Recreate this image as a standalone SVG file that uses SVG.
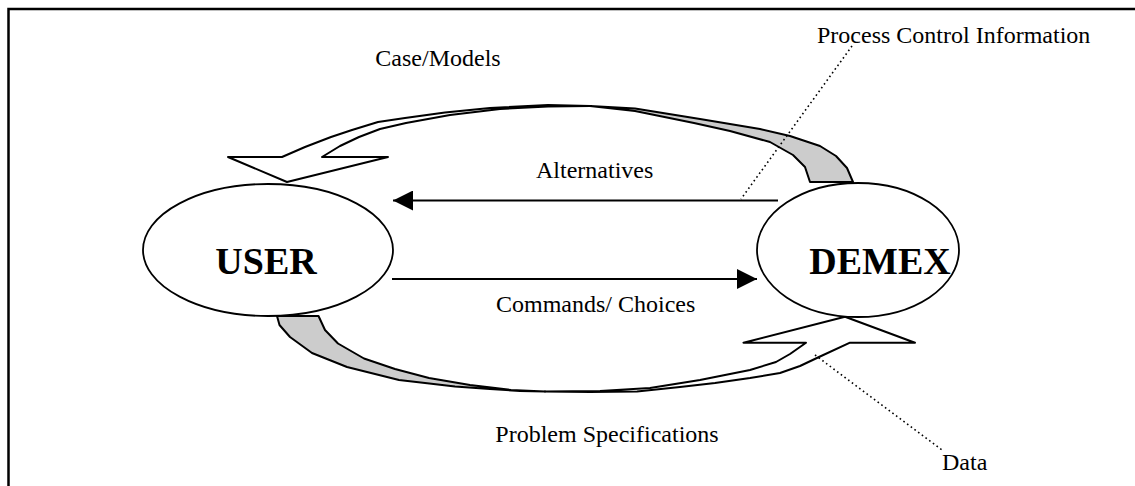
<svg xmlns="http://www.w3.org/2000/svg" width="1135" height="486" viewBox="0 0 1135 486">
  <style>
    .frame { fill: none; stroke: #000; stroke-width: 2.5; }
    .node { fill: #fff; stroke: #000; stroke-width: 1.8; }
    .band { stroke: #000; stroke-width: 2; stroke-linejoin: round; }
    .front { fill: #fff; }
    .back { fill: #cccccc; }
    .flow { fill: none; stroke: #000; stroke-width: 2.2; }
    .pointer { fill: none; stroke: #000; stroke-width: 1.6; stroke-dasharray: 1.6 3; }
    .label { font-family: "Liberation Serif", "Times New Roman", serif; font-size: 24px; fill: #000; }
    .title { font-family: "Liberation Serif", "Times New Roman", serif; font-size: 38px; font-weight: bold; fill: #000; }
  </style>
  <defs>
    <marker id="head" viewBox="0 0 20 20" refX="20" refY="10" markerWidth="20" markerHeight="20" markerUnits="userSpaceOnUse" orient="auto">
      <path d="M0,0 L20,10 L0,20 Z" fill="#000"/>
    </marker>
  </defs>

  <!-- page border (top and left edges only) -->
  <path class="frame" d="M8.5,486 L8.5,9 L1135,9"/>

  <!-- feedback loops -->
  <g id="loop-case-models">
    <path class="band back" d="M590,106 L635,108.5 L700,119 L760,129 L790,136 L820,146 L836,156 L847,168 L853,182 L810,182 L805,167 L793,155 L770,142 L730,131 L694,123 L635,111 Z"/>
    <path class="band front" d="M590,106 L548,105 L490,108 L445,112.5 L405,118 L378,122 L352,130 L331,137 L305,147 L282,157 L228,157 L287,182 L388,157 L322,157 L340,146 L359,137 L380,129 L406,123 L450,115 L500,109 L548,106.5 Z"/>
  </g>
  <g id="loop-problem-specifications">
    <path class="band back" d="M277,316 L318.5,316 L325,330 L338,343.5 L364,358.5 L395,369 L429,378 L470,385 L511,390 L545,391.5 L520,391 L490,389 L455,386.5 L425,383 L399,380 L347,367 L312,353 L290,337 L279.5,325 Z"/>
    <path class="band front" d="M545,391.5 L590,392 L637,391.5 L680,387 L715,383 L750,378 L780,373 L800,366 L819,357 L850,342.7 L915,342.7 L845,316.7 L743.5,342.7 L806,342.7 L790,354 L776,362 L750,370 L700,380 L650,388 L600,391 Z"/>
  </g>

  <!-- nodes -->
  <g id="user">
    <ellipse class="node" cx="268" cy="250" rx="125" ry="66"/>
    <text class="title" x="266" y="274" text-anchor="middle">USER</text>
  </g>
  <g id="demex">
    <ellipse class="node" cx="858" cy="250" rx="101" ry="67"/>
    <text class="title" x="880" y="274" text-anchor="middle">DEMEX</text>
  </g>

  <!-- direct exchanges between the two nodes -->
  <g id="connectors">
    <line class="flow" x1="778" y1="200.5" x2="393" y2="200.5" marker-end="url(#head)"/>
    <line class="flow" x1="392" y1="279" x2="757" y2="279" marker-end="url(#head)"/>
    <line class="pointer" x1="852" y1="46" x2="741" y2="199"/>
    <line class="pointer" x1="815" y1="355" x2="942" y2="450"/>
  </g>

  <!-- labels -->
  <g id="labels">
    <text class="label" x="438" y="66" text-anchor="middle">Case/Models</text>
    <text class="label" x="817" y="43">Process Control Information</text>
    <text class="label" x="536" y="178">Alternatives</text>
    <text class="label" x="496" y="312">Commands/ Choices</text>
    <text class="label" x="607" y="442" text-anchor="middle">Problem Specifications</text>
    <text class="label" x="942" y="470">Data</text>
  </g>
</svg>
